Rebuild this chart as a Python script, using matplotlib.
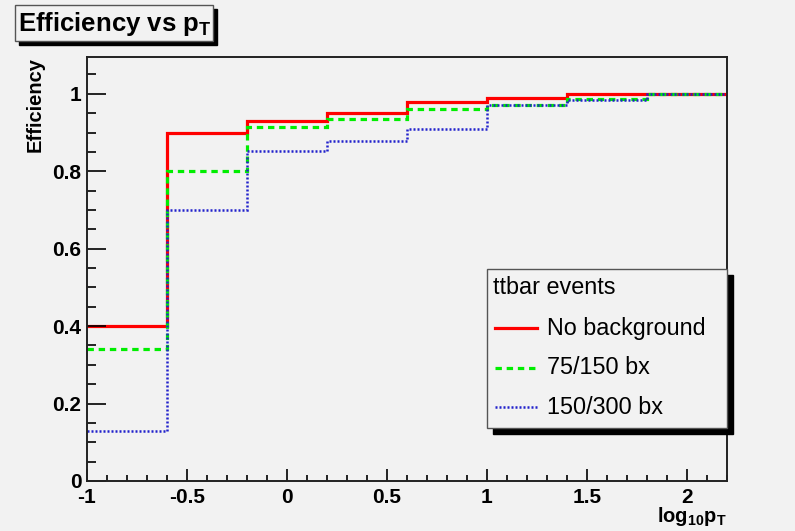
import matplotlib
matplotlib.use("Agg")
import matplotlib.pyplot as plt
from matplotlib.patches import Rectangle
from matplotlib.lines import Line2D
from matplotlib.ticker import MultipleLocator, FormatStrFormatter

plt.rcParams['font.family'] = ['Liberation Sans', 'DejaVu Sans']
plt.rcParams['mathtext.fontset'] = 'custom'
plt.rcParams['mathtext.rm'] = 'Liberation Sans'
plt.rcParams['mathtext.bf'] = 'Liberation Sans:bold'
plt.rcParams['mathtext.it'] = 'Liberation Sans:italic'

# bin edges in log10(pT)
edges = [-1.0, -0.6, -0.2, 0.2, 0.6, 1.0, 1.4, 1.8, 2.2]
eff_nobkg = [0.40, 0.90, 0.93, 0.95, 0.98, 0.99, 1.00, 1.00]
eff_75 = [0.34, 0.80, 0.915, 0.935, 0.96, 0.97, 0.987, 1.00]
eff_150 = [0.13, 0.70, 0.853, 0.878, 0.91, 0.97, 0.983, 1.00]
labels = ['No background', '75/150 bx', '150/300 bx']

bg = '#f2f2f2'
W, H = 795, 531


def fx(x):
    return x / W


def fy(y):
    return 1 - y / H


fig = plt.figure(figsize=(7.95, 5.31), dpi=100, facecolor=bg)
ax = fig.add_axes([fx(87), fy(481), fx(727) - fx(87), fy(57) - fy(481)])
ax.set_facecolor(bg)

s1 = ax.stairs(eff_nobkg, edges, baseline=None, color='#ff0000', lw=2.3)
s2 = ax.stairs(eff_75, edges, baseline=None, color='#00ee00', lw=2.3,
               linestyle=(0, (2, 1.5)))
s3 = ax.stairs(eff_150, edges, baseline=None, color='#2222cc', lw=1.8,
               linestyle=(0, (0.8, 0.8)))

ax.set_xlim(-1, 2.2)
ax.set_ylim(0, 1.095)
ax.xaxis.set_major_locator(MultipleLocator(0.5))
ax.xaxis.set_minor_locator(MultipleLocator(0.1))
ax.yaxis.set_major_locator(MultipleLocator(0.2))
ax.yaxis.set_minor_locator(MultipleLocator(0.05))
ax.xaxis.set_major_formatter(FormatStrFormatter('%g'))
ax.yaxis.set_major_formatter(FormatStrFormatter('%g'))
ax.tick_params(axis='x', which='major', direction='in', length=9, width=1.2,
               pad=5, labelsize=15)
ax.tick_params(axis='x', which='minor', direction='in', length=4.5, width=1.2)
ax.tick_params(axis='y', which='major', direction='in', length=13.5, width=1.2,
               pad=4, labelsize=15)
ax.tick_params(axis='y', which='minor', direction='in', length=6.8, width=1.2)
for lab in ax.get_xticklabels() + ax.get_yticklabels():
    lab.set_fontweight('bold')
for sp in ax.spines.values():
    sp.set_linewidth(1.4)
    sp.set_color('#222222')

fig.text(fx(35), fy(57), 'Efficiency', rotation=90, ha='center', va='top',
         fontsize=14.5, fontweight='bold')
fig.text(fx(727), fy(505), r'log$_{\mathbf{10}}$p$_\mathbf{T}$', ha='right',
         va='top', fontsize=14.5, fontweight='bold')

# title box with shadow
fig.patches.append(Rectangle((fx(19), fy(45)), fx(198), fy(0) - fy(36),
                             transform=fig.transFigure, color='black', zorder=1))
fig.patches.append(Rectangle((fx(15), fy(41)), fx(198), fy(0) - fy(36),
                             transform=fig.transFigure, facecolor=bg,
                             edgecolor='#555555', lw=1, zorder=2))
fig.text(fx(18), fy(24), r'Efficiency vs p$_\mathbf{T}$', ha='left',
         va='center', fontsize=18.5, fontweight='bold', zorder=3)

# legend box with shadow
fig.patches.append(Rectangle((fx(493), fy(434)), fx(240), fy(0) - fy(159),
                             transform=fig.transFigure, color='black', zorder=5))
fig.patches.append(Rectangle((fx(487), fy(428)), fx(240), fy(0) - fy(159),
                             transform=fig.transFigure, facecolor=bg,
                             edgecolor='#555555', lw=1, zorder=6))
fig.text(fx(493), fy(287), 'ttbar events', ha='left', va='center',
         fontsize=16.8, zorder=7)
rows = [328, 368, 407]
for art, lab, yy in zip([s1, s2, s3], labels, rows):
    fig.add_artist(Line2D([fx(495), fx(537)], [fy(yy), fy(yy)],
                          color=art.get_edgecolor(), lw=art.get_linewidth(),
                          linestyle=art.get_linestyle(), zorder=7))
    fig.text(fx(547), fy(yy), lab, ha='left', va='center', fontsize=16.8,
             zorder=7)

fig.savefig('out.png', dpi=100, facecolor=bg)
